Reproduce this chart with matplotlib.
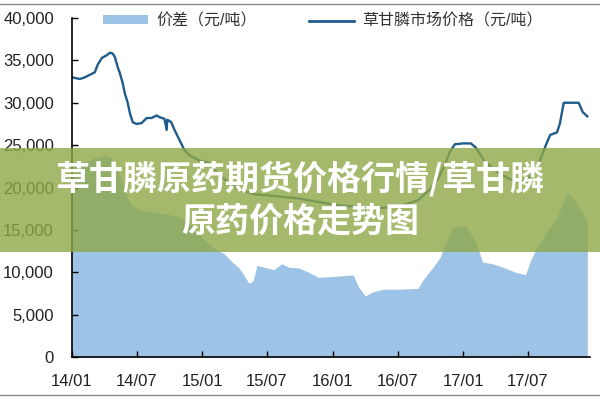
import matplotlib
matplotlib.use("Agg")
import matplotlib.pyplot as plt
import matplotlib.dates as mdates
from matplotlib.patches import Rectangle, Patch
from matplotlib.lines import Line2D
from matplotlib.ticker import FuncFormatter
import numpy as np

plt.rcParams['font.family'] = ['Liberation Sans', 'Noto Sans CJK SC', 'DejaVu Sans']

# 草甘膦市场价格 (元/吨)
price_dates = ["2014-01-01", "2014-01-23", "2014-02-06", "2014-02-20", "2014-03-06",
               "2014-03-14", "2014-03-26", "2014-04-08", "2014-04-17", "2014-04-25",
               "2014-05-01", "2014-05-09", "2014-05-15", "2014-05-23", "2014-05-29",
               "2014-06-06", "2014-06-12", "2014-06-20", "2014-07-01", "2014-07-15",
               "2014-07-29", "2014-08-12", "2014-08-26", "2014-09-03", "2014-09-17",
               "2014-09-23", "2014-09-25", "2014-10-06", "2014-10-15", "2014-10-29",
               "2014-11-12", "2014-11-26", "2014-12-23", "2015-01-20", "2015-02-17",
               "2015-04-06", "2015-05-26", "2015-07-20", "2015-09-28", "2015-11-22",
               "2016-01-17", "2016-03-13", "2016-05-22", "2016-07-16", "2016-08-27",
               "2016-09-30", "2016-10-22", "2016-11-10", "2016-11-24", "2016-12-08",
               "2016-12-31", "2017-01-22", "2017-02-05", "2017-03-01", "2017-04-07",
               "2017-05-05", "2017-06-01", "2017-06-29", "2017-07-27", "2017-08-18",
               "2017-09-01", "2017-09-20", "2017-09-28", "2017-10-09", "2017-10-31",
               "2017-11-20", "2017-12-01", "2017-12-14"]
price_values = [33000, 32800, 33000, 33300, 33600,
                34500, 35300, 35600, 35900, 35800,
                35400, 34200, 33500, 32300, 31100,
                30000, 28800, 27700, 27500, 27600,
                28200, 28200, 28500, 28300, 28100,
                26800, 28000, 27700, 26800, 25600,
                24400, 23800, 23200, 22900, 21500,
                19900, 19200, 19000, 18700, 18300,
                17900, 17700, 17600, 17900, 18500,
                19800, 21000, 22700, 24200, 25100,
                25200, 25200, 24700, 23100, 21800,
                21100, 20700, 20900, 22400, 24800,
                26200, 26500, 27500, 30000, 30000,
                30000, 28900, 28400]

# 价差 (元/吨)
spread_dates = ["2014-01-01", "2014-02-06", "2014-03-06", "2014-04-02", "2014-04-22",
                "2014-05-15", "2014-06-12", "2014-07-10", "2014-08-07", "2014-09-03",
                "2014-10-01", "2014-10-29", "2014-12-10", "2015-01-06", "2015-02-03",
                "2015-03-03", "2015-03-23", "2015-04-14", "2015-05-04", "2015-05-12",
                "2015-05-23", "2015-06-03", "2015-06-22", "2015-07-20", "2015-08-11",
                "2015-08-31", "2015-09-28", "2015-10-26", "2015-11-22", "2016-01-03",
                "2016-02-27", "2016-03-13", "2016-04-01", "2016-04-23", "2016-05-22",
                "2016-07-02", "2016-08-27", "2016-09-10", "2016-10-08", "2016-10-28",
                "2016-11-13", "2016-12-03", "2017-01-08", "2017-02-05", "2017-02-24",
                "2017-03-24", "2017-04-21", "2017-05-27", "2017-06-24", "2017-07-08",
                "2017-07-27", "2017-08-23", "2017-09-20", "2017-10-18", "2017-10-31",
                "2017-11-14", "2017-12-14"]
spread_values = [22600, 23000, 23500, 23800, 23500,
                 21500, 18100, 17300, 17200, 17000,
                 16800, 16500, 15300, 13800, 12800,
                 12200, 11300, 10500, 9200, 8700,
                 9000, 10800, 10600, 10300, 11000,
                 10600, 10500, 10000, 9400, 9500,
                 9700, 8300, 7200, 7700, 8000,
                 8000, 8100, 9100, 10600, 11800,
                 13500, 15300, 15500, 13500, 11200,
                 11000, 10600, 10000, 9700, 11400,
                 13000, 14800, 16500, 19300, 19000,
                 18100, 16100]

ytick_values = [0, 5000, 10000, 15000, 20000, 25000, 30000, 35000, 40000]
xtick_dates = ["2014-01-01", "2014-07-01", "2015-01-01", "2015-07-01",
               "2016-01-01", "2016-07-01", "2017-01-01", "2017-07-01"]

banner_lines = ["草甘膦原药期货价格行情/草甘膦", "原药价格走势图"]

pd_ = np.array(price_dates, dtype="datetime64[D]")
sd_ = np.array(spread_dates, dtype="datetime64[D]")
xt = np.array(xtick_dates, dtype="datetime64[D]")

fig = plt.figure(figsize=(6, 4), dpi=100)
ax = fig.add_axes([0.12, 0.1075, 0.863, 0.8475])

area_color = "#9DC3E6"
line_color = "#1F5C8A"

ax.fill_between(sd_, 0, spread_values, color=area_color, linewidth=0)
ax.plot(pd_, price_values, color=line_color, linewidth=1.7)

ax.set_ylim(0, 40000)
ax.set_xlim(np.datetime64("2014-01-01"), np.datetime64("2017-12-21"))
ax.set_yticks(ytick_values)
ax.yaxis.set_major_formatter(FuncFormatter(lambda v, p: f"{int(v):,}"))
ax.set_xticks(xt)
ax.xaxis.set_major_formatter(mdates.DateFormatter("%y/%m"))

for s in ["top", "right"]:
    ax.spines[s].set_visible(False)
for s in ["left", "bottom"]:
    ax.spines[s].set_linewidth(1.2)
    ax.spines[s].set_color("black")
ax.tick_params(axis="y", direction="in", length=4, width=1, pad=13, labelsize=12, colors="black")
ax.tick_params(axis="x", direction="in", length=4, width=1, pad=12, labelsize=12, colors="black")
for lab in ax.get_xticklabels() + ax.get_yticklabels():
    lab.set_color("#222222")

handles = [Patch(facecolor=area_color, edgecolor="none", label="价差（元/吨）"),
           Line2D([0], [0], color=line_color, linewidth=2, label="草甘膦市场价格（元/吨）")]
leg = fig.legend(handles=handles, loc="center", bbox_to_anchor=(323 / 600, 1 - 21 / 400),
                 ncol=2, frameon=False, fontsize=11.5, handlelength=2.8, handleheight=0.5,
                 handletextpad=0.5, columnspacing=3.3)
for t in leg.get_texts():
    t.set_color("#333333")

# overlay banner
fig.patches.append(Rectangle((0, 0.37), 1, 0.26, transform=fig.transFigure,
                             facecolor=(0.56, 0.66, 0.28), alpha=0.8, zorder=10, linewidth=0))
fig.text(0.5, 1 - 179 / 400, banner_lines[0], ha="center", va="center", color="white",
         fontsize=24.5, fontweight="black", family=["Noto Sans CJK SC", "DejaVu Sans"], zorder=11)
fig.text(0.5, 1 - 221 / 400, banner_lines[1], ha="center", va="center", color="white",
         fontsize=24.5, fontweight="black", family=["Noto Sans CJK SC", "DejaVu Sans"], zorder=11)

# picture border lines
fig.add_artist(Line2D([0, 1], [1 - 4 / 400, 1 - 4 / 400], transform=fig.transFigure,
                      color="#888888", linewidth=1))
fig.add_artist(Line2D([0, 1], [1 - 395 / 400, 1 - 395 / 400], transform=fig.transFigure,
                      color="#888888", linewidth=1))

fig.savefig("out.png", dpi=100)
